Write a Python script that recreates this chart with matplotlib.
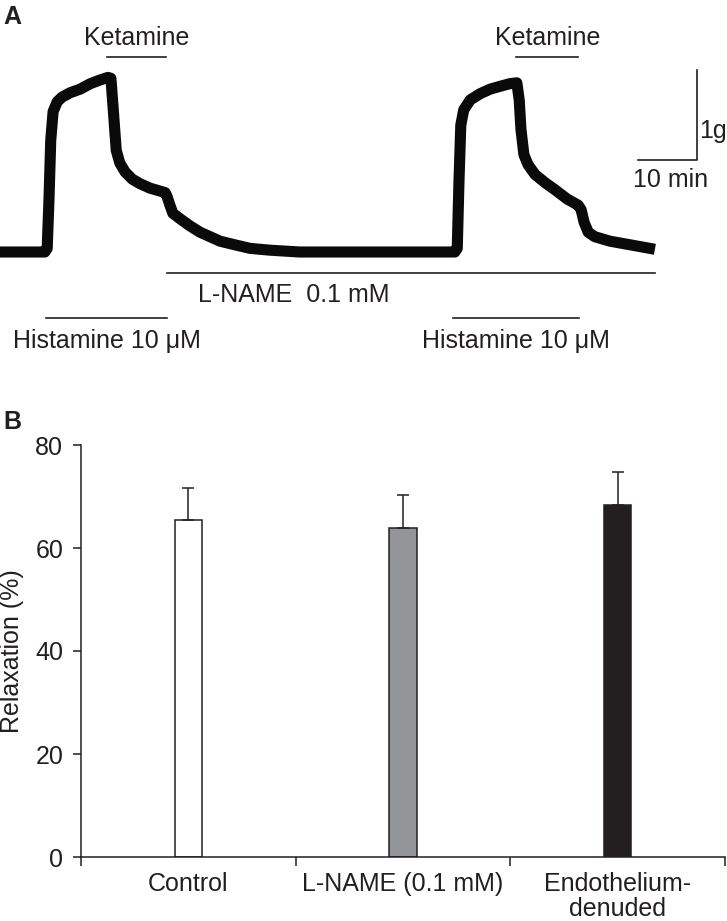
import matplotlib
matplotlib.use('Agg')
import matplotlib.pyplot as plt
from matplotlib import font_manager as fm
from matplotlib.ticker import FixedLocator, NullFormatter

# ---------------- Panel A: tension recording ----------------
trace_time_min = [0.0, 7.6, 8.0, 8.3, 8.6, 9.0, 9.7, 10.5, 11.9, 13.6, 15.3, 16.9,
                  18.3, 18.8, 19.2, 19.7, 20.3, 21.2, 22.4, 23.7, 25.4, 28.0, 28.3,
                  28.8, 29.3, 30.5, 32.2, 33.9, 35.6, 37.3, 39.8, 42.4, 45.8, 50.8,
                  77.1, 77.5, 77.8, 78.1, 78.6, 79.7, 81.4, 83.1, 84.7, 86.4, 87.6,
                  88.0, 88.3, 88.8, 89.5, 90.7, 92.4, 94.1, 96.1, 98.0, 98.5, 99.0,
                  99.7, 100.8, 103.4, 106.8, 111.0]
trace_tension_g = [0.00, 0.00, 0.04, 0.58, 1.24, 1.56, 1.67, 1.72, 1.77, 1.81, 1.87, 1.91,
                   1.94, 1.93, 1.58, 1.13, 0.99, 0.89, 0.81, 0.76, 0.71, 0.66, 0.62,
                   0.52, 0.43, 0.37, 0.29, 0.22, 0.17, 0.12, 0.08, 0.04, 0.02, 0.00,
                   0.00, 0.04, 0.80, 1.41, 1.58, 1.69, 1.76, 1.81, 1.84, 1.87, 1.88,
                   1.69, 1.36, 1.08, 0.97, 0.86, 0.77, 0.69, 0.59, 0.52, 0.47, 0.33,
                   0.22, 0.17, 0.12, 0.08, 0.03]
ketamine_periods = [(18.1, 28.1), (87.5, 98.0)]
histamine_periods = [(7.8, 28.3), (76.8, 98.1)]
lname_period = (28.3, 111.0)
ketamine_label = 'Ketamine'
histamine_label = 'Histamine 10 \u03bcM'
lname_label = 'L-NAME  0.1 mM'
scale_time_min = 10
scale_tension_g = 1
scale_time_label = '10 min'
scale_tension_label = '1g'

# ---------------- Panel B: relaxation ----------------
categories = ['Control', 'L-NAME (0.1 mM)', 'Endothelium-\ndenuded']
relaxation_mean = [65.4, 63.8, 68.3]
relaxation_err = [6.3, 6.4, 6.4]
bar_colors = ['#ffffff', '#939598', '#231f20']
y_ticks = [0, 20, 40, 60, 80]
y_label = 'Relaxation (%)'

DARK = '#231f20'
names = {f.name for f in fm.fontManager.ttflist}
REG = 'Liberation Sans' if 'Liberation Sans' in names else 'DejaVu Sans'
plt.rcParams['font.family'] = [REG, 'DejaVu Sans']

W, H = 727, 921
fig = plt.figure(figsize=(W / 100, H / 100), dpi=100)

# ----- Panel A -----
px_per_min = 5.9
px_per_g = 90.0
base_px = 252.0
top_h = 460
axa = fig.add_axes([0, 1 - top_h / H, 1, top_h / H])
axa.set_xlim(0, W / px_per_min)
axa.set_ylim((base_px - top_h) / px_per_g, base_px / px_per_g)
axa.axis('off')

axa.plot(trace_time_min, trace_tension_g, color='#0a0a0a', lw=8.0,
         solid_joinstyle='round', solid_capstyle='butt')

fs_a = 18
lw_ann = 1.2
for (t0, t1) in ketamine_periods:
    axa.plot([t0, t1], [2.17, 2.17], color=DARK, lw=lw_ann)
    axa.text((t0 + t1) / 2, 2.30, ketamine_label, ha='center', va='baseline',
             fontsize=fs_a, color=DARK)
for (t0, t1) in histamine_periods:
    axa.plot([t0, t1], [-0.73, -0.73], color=DARK, lw=lw_ann)
    axa.text((t0 + t1) / 2, -1.067, histamine_label, ha='center', va='baseline',
             fontsize=fs_a, color=DARK)
axa.plot(lname_period, [-0.23, -0.23], color=DARK, lw=lw_ann)
axa.text(33.6, -0.556, lname_label, ha='left', va='baseline', fontsize=fs_a, color=DARK)

# scale bars
sx1 = 697 / px_per_min
sx0 = sx1 - scale_time_min
sy0 = (base_px - 160) / px_per_g
sy1 = sy0 + scale_tension_g
axa.plot([sx0, sx1, sx1], [sy0, sy0, sy1], color=DARK, lw=lw_ann)
axa.text(sx1 + 0.4, 1.27, scale_tension_label, ha='left', va='baseline',
         fontsize=fs_a, color=DARK)
axa.text((sx0 + sx1) / 2 + 0.5, 0.72, scale_time_label, ha='center', va='baseline',
         fontsize=fs_a, color=DARK)

fig.text(3 / W, 1 - 5 / H, 'A', ha='left', va='top', fontsize=18,
         fontweight='bold', color=DARK)
fig.text(3 / W, 1 - 410 / H, 'B', ha='left', va='top', fontsize=18,
         fontweight='bold', color=DARK)

# ----- Panel B -----
left_px, right_px, bot_px, topax_px = 81, 725, 857, 445
axb = fig.add_axes([left_px / W, 1 - bot_px / H, (right_px - left_px) / W,
                    (bot_px - topax_px) / H])
n = len(categories)
centers = [i + 0.5 for i in range(n)]
axb.bar(centers, relaxation_mean, width=0.126, color=bar_colors,
        edgecolor=DARK, linewidth=1.1, zorder=2)
axb.errorbar(centers, relaxation_mean,
             yerr=[[0] * n, relaxation_err], fmt='none', ecolor=DARK,
             elinewidth=1.1, capsize=4.0, capthick=1.1, zorder=3)
axb.set_xlim(0, n)
axb.set_ylim(0, 80)
for s in ['top', 'right']:
    axb.spines[s].set_visible(False)
for s in ['left', 'bottom']:
    axb.spines[s].set_color(DARK)
    axb.spines[s].set_linewidth(1.1)

axb.set_yticks(y_ticks)
axb.set_yticklabels([str(v) for v in y_ticks], fontsize=18, color=DARK)
axb.tick_params(axis='y', direction='out', length=5.8, width=1.1, color=DARK, pad=7)

axb.xaxis.set_major_locator(FixedLocator(list(range(n + 1))))
axb.xaxis.set_major_formatter(NullFormatter())
axb.xaxis.set_minor_locator(FixedLocator(centers))
axb.set_xticklabels(categories, minor=True, fontsize=18,
                    color=DARK, linespacing=1.05)
axb.tick_params(axis='x', which='major', direction='out', length=6.5, width=1.1, color=DARK)
axb.tick_params(axis='x', which='minor', length=0, pad=11)

fig.text(0.5 / W, 1 - 651 / H, y_label, rotation=90, ha='left', va='center',
         fontsize=18, color=DARK)

fig.savefig('out.png', dpi=100)
